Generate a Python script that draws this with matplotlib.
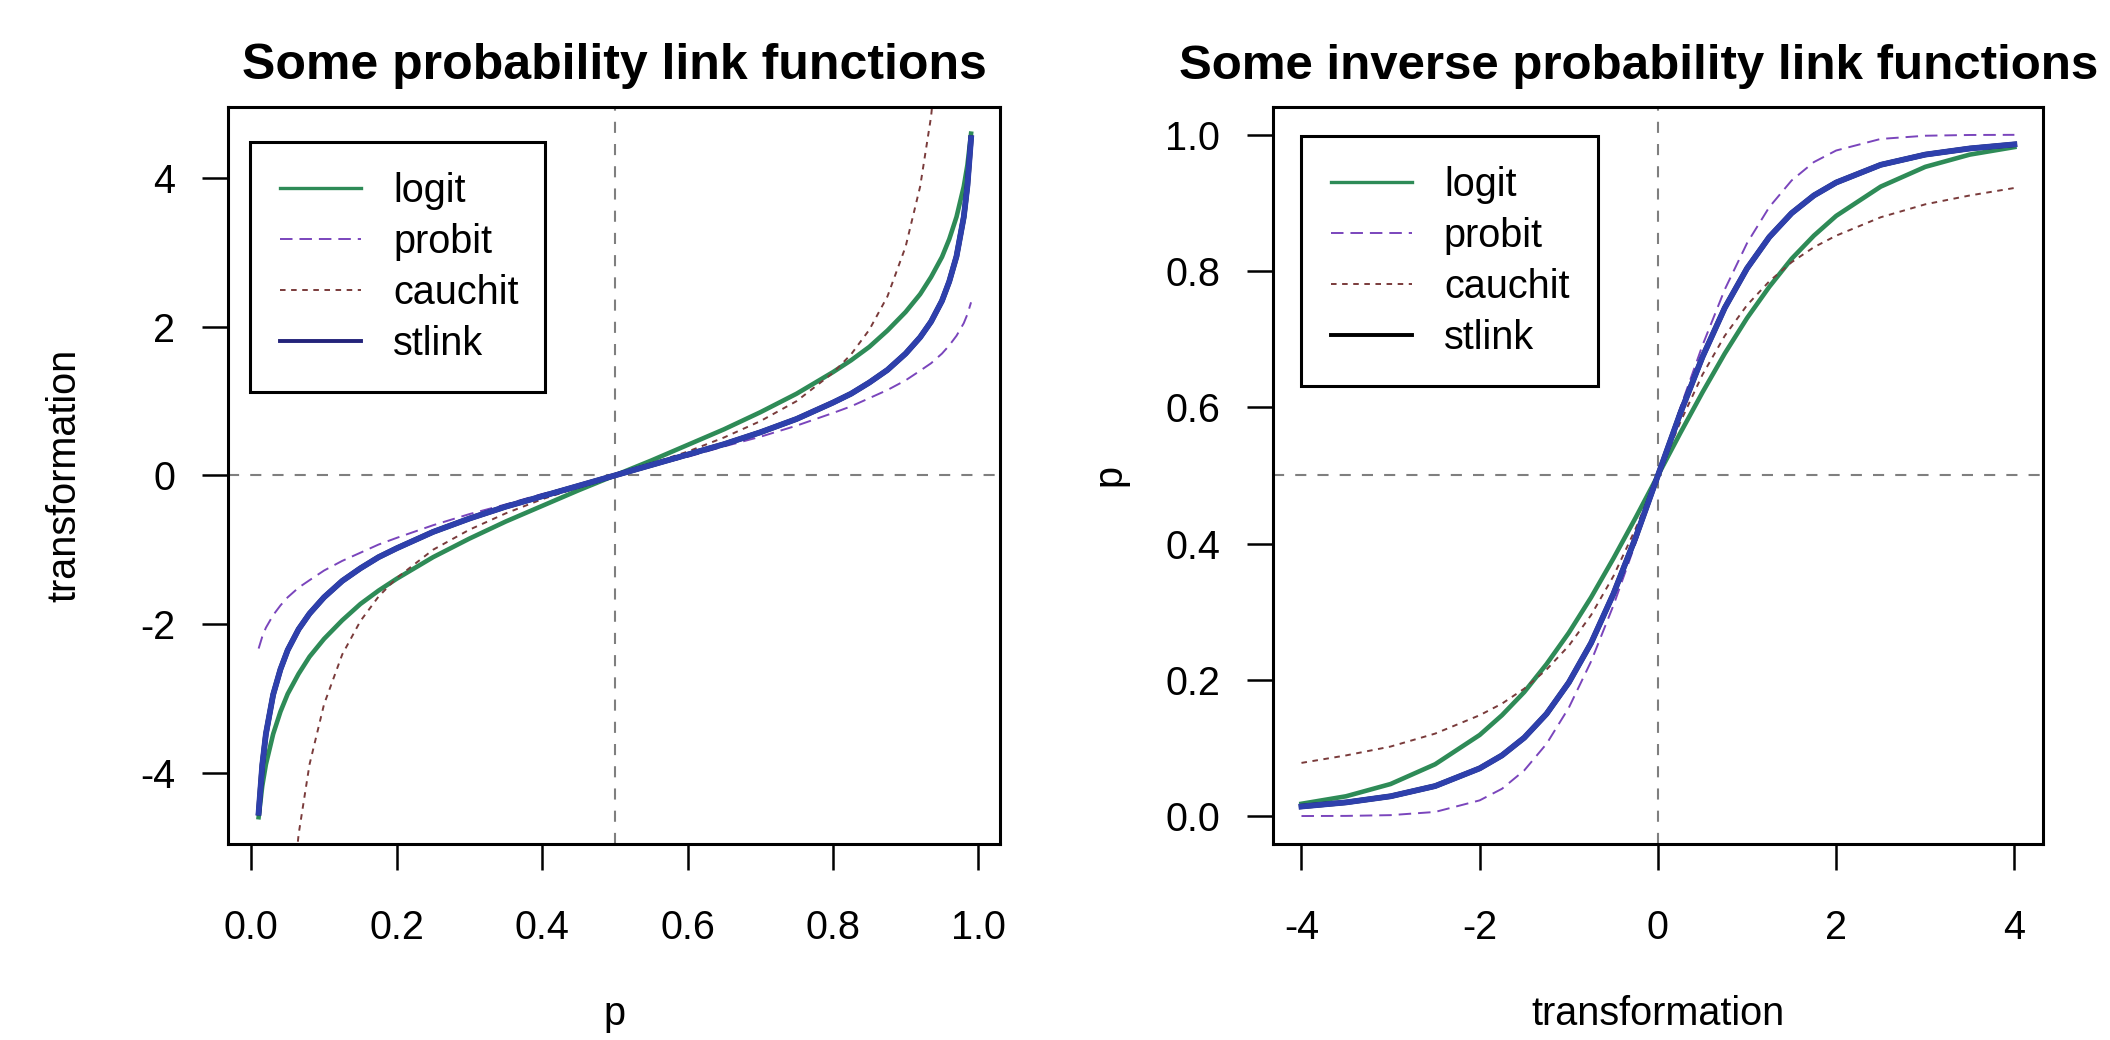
import numpy as np
import matplotlib
matplotlib.use("Agg")
import matplotlib.pyplot as plt
from matplotlib.lines import Line2D

plt.rcParams["font.family"] = ["Liberation Sans", "DejaVu Sans"]
plt.rcParams["lines.scale_dashes"] = False
plt.rcParams["axes.unicode_minus"] = False

# Left panel: link functions on p
p = [0.01, 0.015, 0.02, 0.03, 0.04, 0.05, 0.065, 0.08, 0.1, 0.125, 0.15, 0.175,
     0.2, 0.25, 0.3, 0.35, 0.4, 0.45, 0.5, 0.55, 0.6, 0.65, 0.7, 0.75, 0.8,
     0.825, 0.85, 0.875, 0.9, 0.92, 0.935, 0.95, 0.96, 0.97, 0.98, 0.985, 0.99]
logit = [-4.60, -4.18, -3.89, -3.48, -3.18, -2.94, -2.67, -2.44, -2.20, -1.95,
         -1.73, -1.55, -1.39, -1.10, -0.85, -0.62, -0.41, -0.20, 0.0, 0.20, 0.41,
         0.62, 0.85, 1.10, 1.39, 1.55, 1.73, 1.95, 2.20, 2.44, 2.67, 2.94, 3.18,
         3.48, 3.89, 4.18, 4.60]
probit = [-2.33, -2.17, -2.05, -1.88, -1.75, -1.64, -1.51, -1.41, -1.28, -1.15,
          -1.04, -0.93, -0.84, -0.67, -0.52, -0.39, -0.25, -0.13, 0.0, 0.13, 0.25,
          0.39, 0.52, 0.67, 0.84, 0.93, 1.04, 1.15, 1.28, 1.41, 1.51, 1.64, 1.75,
          1.88, 2.05, 2.17, 2.33]
cauchit = [-31.8, -21.2, -15.9, -10.6, -7.92, -6.31, -4.83, -3.89, -3.08, -2.41,
           -1.96, -1.63, -1.38, -1.0, -0.73, -0.51, -0.32, -0.16, 0.0, 0.16, 0.32,
           0.51, 0.73, 1.0, 1.38, 1.63, 1.96, 2.41, 3.08, 3.89, 4.83, 6.31, 7.92,
           10.6, 15.9, 21.2, 31.8]
stlink = [-4.54, -3.90, -3.48, -2.95, -2.61, -2.35, -2.07, -1.86, -1.64, -1.42,
          -1.25, -1.10, -0.98, -0.76, -0.58, -0.42, -0.28, -0.14, 0.0, 0.14, 0.28,
          0.42, 0.58, 0.76, 0.98, 1.10, 1.25, 1.42, 1.64, 1.86, 2.07, 2.35, 2.61,
          2.95, 3.48, 3.90, 4.54]

# Right panel: inverse link functions on the transformation scale
eta = [-4, -3.5, -3, -2.5, -2, -1.75, -1.5, -1.25, -1, -0.75, -0.5, -0.25, 0,
       0.25, 0.5, 0.75, 1, 1.25, 1.5, 1.75, 2, 2.5, 3, 3.5, 4]
inv_logit = [0.018, 0.029, 0.047, 0.076, 0.119, 0.148, 0.182, 0.223, 0.269, 0.321,
             0.378, 0.438, 0.5, 0.562, 0.622, 0.679, 0.731, 0.777, 0.818, 0.852,
             0.881, 0.924, 0.953, 0.971, 0.982]
inv_probit = [0.0, 0.0002, 0.0013, 0.006, 0.023, 0.040, 0.067, 0.106, 0.159, 0.227,
              0.309, 0.401, 0.5, 0.599, 0.691, 0.773, 0.841, 0.894, 0.933, 0.960,
              0.977, 0.994, 0.9987, 0.9998, 1.0]
inv_cauchit = [0.078, 0.089, 0.102, 0.121, 0.148, 0.165, 0.187, 0.215, 0.25, 0.295,
               0.352, 0.422, 0.5, 0.578, 0.648, 0.705, 0.75, 0.785, 0.813, 0.835,
               0.852, 0.879, 0.898, 0.911, 0.922]
inv_stlink = [0.014, 0.020, 0.029, 0.044, 0.070, 0.089, 0.115, 0.150, 0.196, 0.254,
              0.326, 0.409, 0.5, 0.591, 0.674, 0.746, 0.804, 0.850, 0.885, 0.911,
              0.930, 0.956, 0.971, 0.980, 0.986]

labels = ["logit", "probit", "cauchit", "stlink"]
green = "#2E8B57"
purple = "#7A45BC"
brown = "#7A3B3B"
blue = "#2E40AC"
navy = "#23237A"

FS = 28.5

fig = plt.figure(figsize=(21.1, 10.4), dpi=100)
ax1 = fig.add_axes([0.1081, 0.1885, 0.3659, 0.7087])
ax2 = fig.add_axes([0.6033, 0.1885, 0.3649, 0.7087])


def style(ax):
    for s in ax.spines.values():
        s.set_linewidth(2.2)
    ax.tick_params(direction="out", length=19, width=1.8, labelsize=FS)
    ax.tick_params(axis="x", pad=28)
    ax.tick_params(axis="y", pad=19)


def draw(ax, x, ys):
    ax.plot(x, ys[0], color=green, lw=3.3)
    ax.plot(x, ys[1], color=purple, lw=1.4, dashes=(9, 5))
    ax.plot(x, ys[2], color=brown, lw=1.4, dashes=(4, 4))
    ax.plot(x, ys[3], color="black", lw=3.8)
    ax.plot(x, ys[3], color=blue, lw=4.2)


def legend(ax, anchor, stcolor):
    handles = [Line2D([], [], color=green, lw=2.4),
               Line2D([], [], color=purple, lw=1.4, dashes=(9, 5)),
               Line2D([], [], color=brown, lw=1.4, dashes=(4, 4)),
               Line2D([], [], color=stcolor, lw=2.8)]
    leg = ax.legend(handles, labels, loc="upper left", bbox_to_anchor=anchor,
                    mode="expand", fontsize=FS, frameon=True, fancybox=False,
                    framealpha=1, edgecolor="black", borderpad=0.75,
                    handlelength=2.06, handletextpad=0.8, labelspacing=0.33,
                    borderaxespad=0)
    leg.get_frame().set_linewidth(2.2)


# left panel
draw(ax1, p, [logit, probit, cauchit, stlink])
ax1.axvline(0.5, color="#7f7f7f", lw=1.5, dashes=(8, 8), zorder=0)
ax1.axhline(0.0, color="#7f7f7f", lw=1.5, dashes=(8, 8), zorder=0)
ax1.set_xlim(-0.032, 1.03)
ax1.set_ylim(-4.96, 4.96)
ax1.set_xticks([0.0, 0.2, 0.4, 0.6, 0.8, 1.0])
ax1.set_yticks([-4, -2, 0, 2, 4])
style(ax1)
ax1.set_title("Some probability link functions", fontsize=36, fontweight="bold", pad=20)
ax1.set_xlabel("p", fontsize=FS)
ax1.set_ylabel("transformation", fontsize=FS)
ax1.xaxis.set_label_coords(0.5, -0.205)
ax1.yaxis.set_label_coords(-0.188, 0.5)
legend(ax1, (0.0285, 0.6133, 0.3821, 0.3392), navy)

# right panel
draw(ax2, eta, [inv_logit, inv_probit, inv_cauchit, inv_stlink])
ax2.axvline(0.0, color="#7f7f7f", lw=1.5, dashes=(8, 8), zorder=0)
ax2.axhline(0.5, color="#7f7f7f", lw=1.5, dashes=(8, 8), zorder=0)
ax2.set_xlim(-4.32, 4.32)
ax2.set_ylim(-0.041, 1.041)
ax2.set_xticks([-4, -2, 0, 2, 4])
ax2.set_yticks([0.0, 0.2, 0.4, 0.6, 0.8, 1.0])
ax2.set_yticklabels(["0.0", "0.2", "0.4", "0.6", "0.8", "1.0"])
style(ax2)
# title kept just inside the right edge of the figure
ax2.set_title("Some inverse probability link functions", fontsize=35.5,
              fontweight="bold", pad=20, x=0.475)
ax2.set_xlabel("transformation", fontsize=FS)
ax2.set_ylabel("p", fontsize=FS)
ax2.xaxis.set_label_coords(0.5, -0.205)
ax2.yaxis.set_label_coords(-0.188, 0.5)
legend(ax2, (0.0364, 0.6269, 0.3857, 0.3338), "black")

fig.savefig("out.png", dpi=100, facecolor="white")
